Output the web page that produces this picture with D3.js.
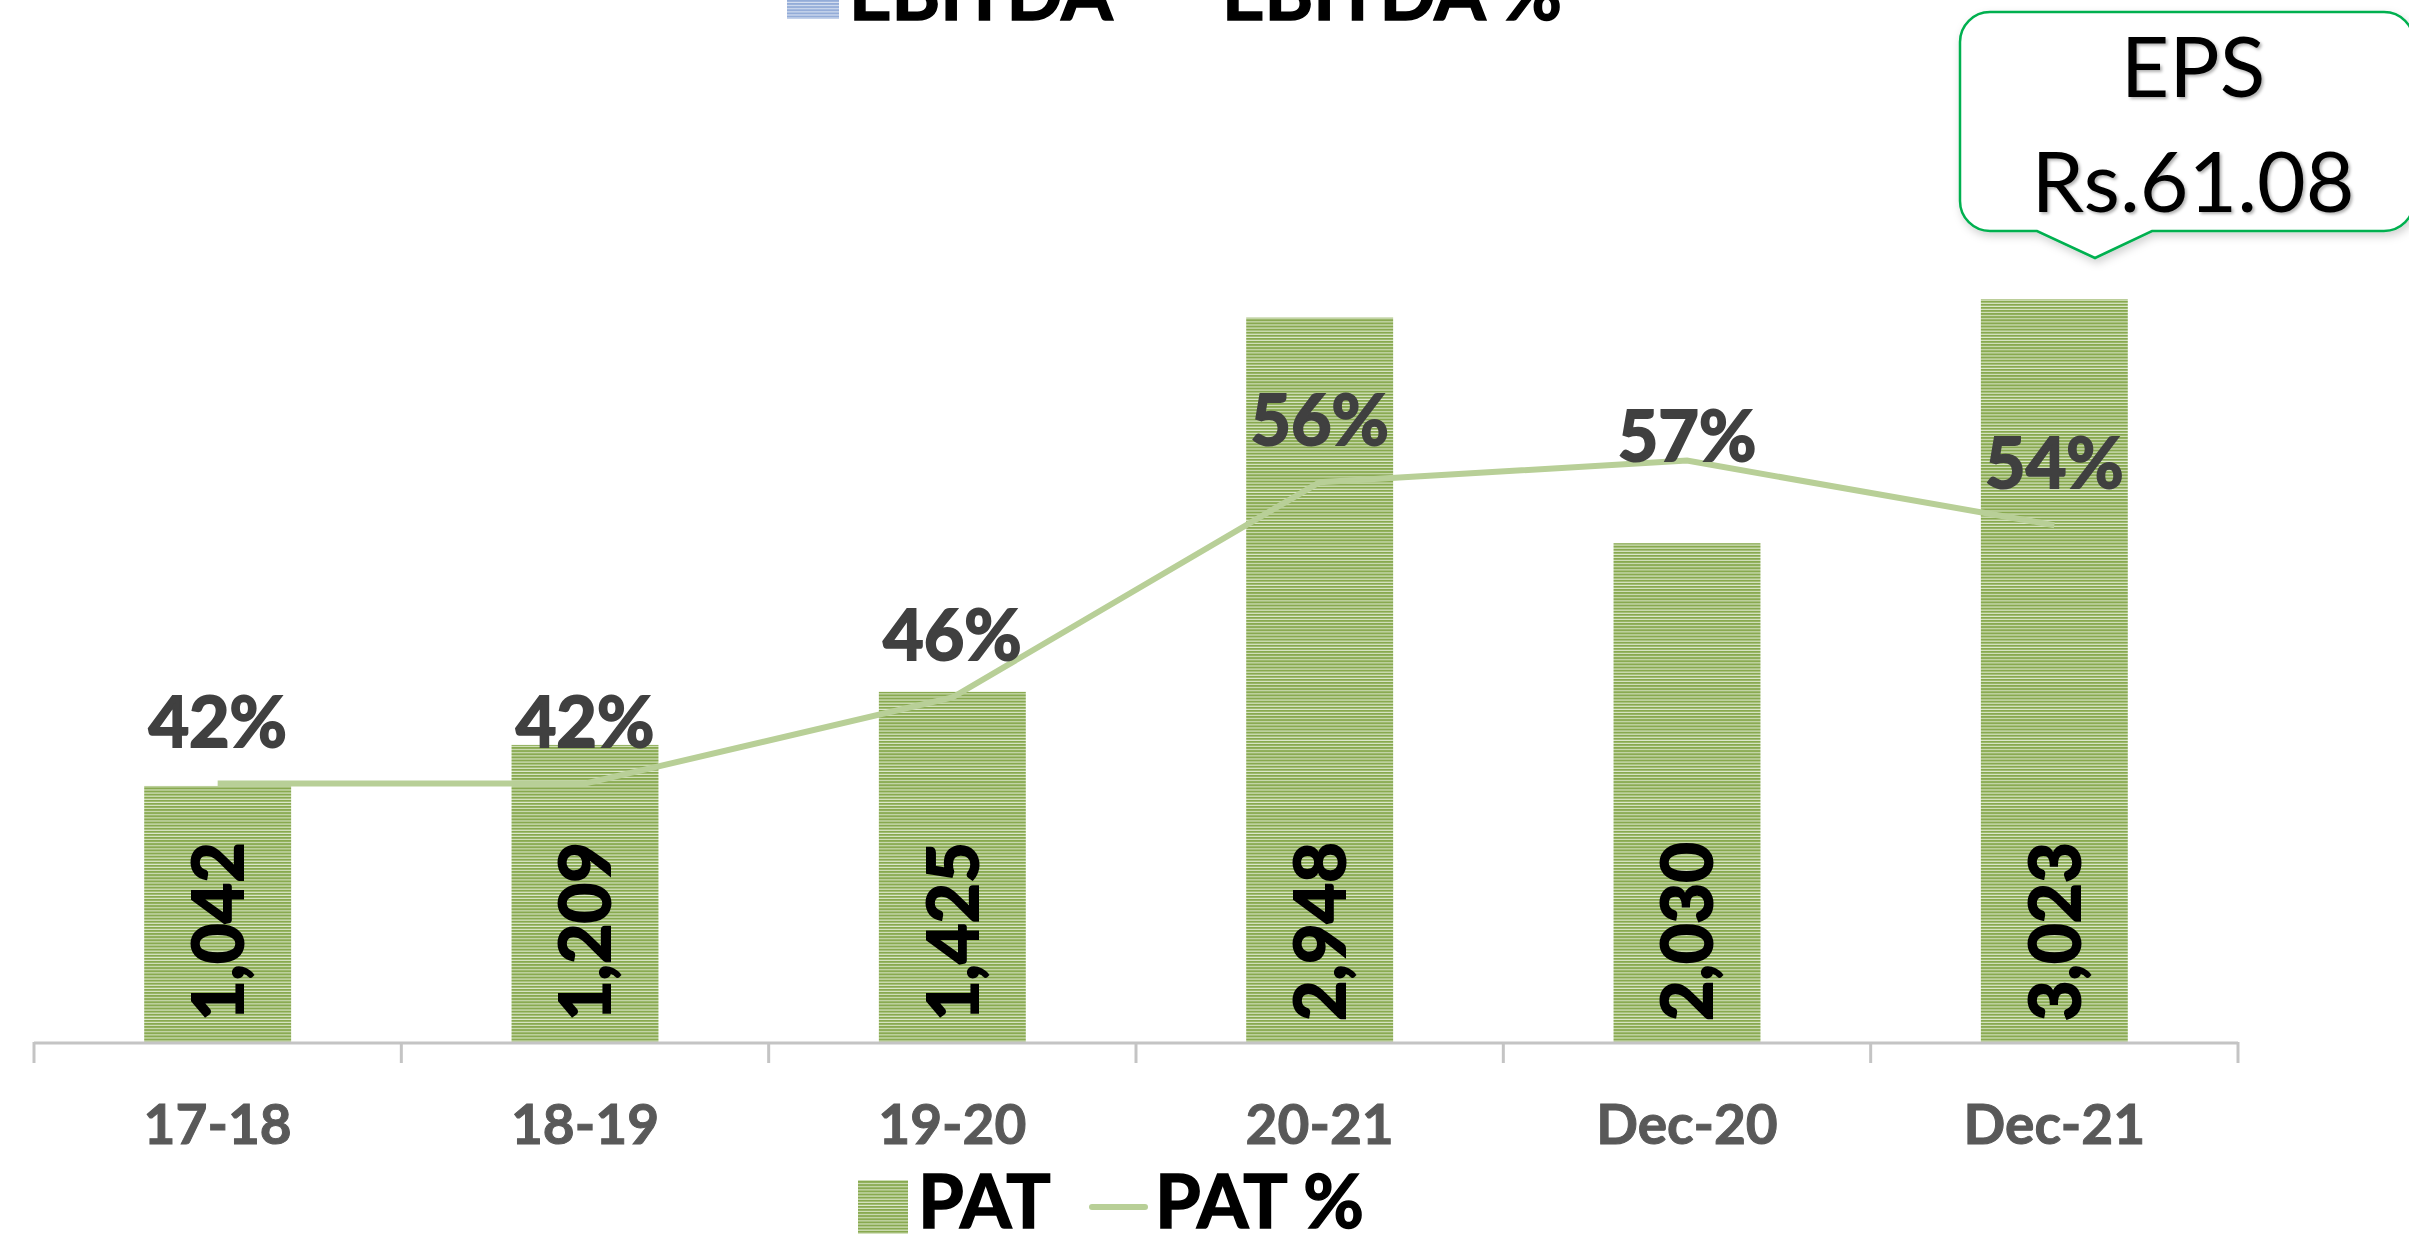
<!DOCTYPE html>
<html>
<head>
<meta charset="utf-8">
<script src="https://cdn.jsdelivr.net/npm/d3@7"></script>
<style>
  html, body { margin: 0; padding: 0; background: #fff; }
  svg { display: block; font-family: Lato, "Open Sans", sans-serif; }
</style>
</head>
<body>
<div id="chart"></div>
<script>
var categories = ["17-18", "18-19", "19-20", "20-21", "Dec-20", "Dec-21"];
var patValues = [1042, 1209, 1425, 2948, 2030, 3023];
var patPercent = [42, 42, 46, 56, 57, 54];
var epsLines = ["EPS", "Rs.61.08"];

var width = 2409, height = 1234;
var axisLeft = 34, axisRight = 2238, baseY = 1042;

var svg = d3.select("#chart").append("svg")
  .attr("width", width)
  .attr("height", height);

var defs = svg.append("defs");

// striped fill for the bars
var pat = defs.append("pattern")
  .attr("id", "greenStripes")
  .attr("patternUnits", "userSpaceOnUse")
  .attr("width", 20)
  .attr("height", 3.1);
pat.append("rect").attr("width", 20).attr("height", 3.1).attr("fill", "#dce8cb");
pat.append("rect").attr("width", 20).attr("height", 2).attr("fill", "#88a94f");

var blue = defs.append("pattern")
  .attr("id", "blueStripes")
  .attr("patternUnits", "userSpaceOnUse")
  .attr("width", 20)
  .attr("height", 3.1);
blue.append("rect").attr("width", 20).attr("height", 3.1).attr("fill", "#dfe7f4");
blue.append("rect").attr("width", 20).attr("height", 2).attr("fill", "#93acd8");

var shadow = defs.append("filter")
  .attr("id", "softShadow")
  .attr("x", "-10%").attr("y", "-10%")
  .attr("width", "130%").attr("height", "140%");
shadow.append("feDropShadow")
  .attr("dx", 2).attr("dy", 4)
  .attr("stdDeviation", 4)
  .attr("flood-color", "#000")
  .attr("flood-opacity", 0.18);

var textShadow = defs.append("filter").attr("id", "textShadow");
textShadow.append("feDropShadow")
  .attr("dx", 2).attr("dy", 2)
  .attr("stdDeviation", 1.5)
  .attr("flood-color", "#000")
  .attr("flood-opacity", 0.3);

// scales
var xOuter = d3.scaleBand()
  .domain(categories)
  .range([axisLeft, axisRight])
  .padding(0);

var xBar = d3.scaleBand()
  .domain(categories)
  .range([axisLeft, axisRight])
  .paddingInner(0.6)
  .paddingOuter(0.3);

var y = d3.scaleLinear().domain([0, 3500]).range([baseY, 182]);
var y2 = d3.scaleLinear().domain([30, 60]).range([baseY, 396]);

var data = categories.map(function(c, i){
  return {cat: c, value: patValues[i], pct: patPercent[i]};
});

// top legend (cut off by the top edge)
var topLegend = svg.append("g");
topLegend.append("rect")
  .attr("x", 787).attr("y", -40)
  .attr("width", 52).attr("height", 59)
  .attr("fill", "url(#blueStripes)");
topLegend.append("text")
  .attr("x", 849).attr("y", 20)
  .attr("font-size", 74).attr("font-weight", 700)
  .attr("fill", "#000")
  .attr("stroke", "#000").attr("stroke-width", 1.5)
  .text("EBITDA");
topLegend.append("text")
  .attr("x", 1222).attr("y", 20)
  .attr("font-size", 74).attr("font-weight", 700)
  .attr("fill", "#000")
  .attr("stroke", "#000").attr("stroke-width", 1.5)
  .text("EBITDA %");

// bars
svg.append("g").selectAll("rect.bar")
  .data(data)
  .enter().append("rect")
  .attr("class", "bar")
  .attr("x", d => xBar(d.cat))
  .attr("y", d => y(d.value))
  .attr("width", xBar.bandwidth())
  .attr("height", d => baseY - y(d.value))
  .attr("fill", "url(#greenStripes)");

// category axis
var axis = svg.append("g");
axis.append("line")
  .attr("x1", axisLeft).attr("x2", axisRight)
  .attr("y1", baseY + 1).attr("y2", baseY + 1)
  .attr("stroke", "#c4c4c4").attr("stroke-width", 3);
var tickPos = categories.map(c => xOuter(c)).concat([axisRight]);
axis.selectAll("line.tick")
  .data(tickPos)
  .enter().append("line")
  .attr("class", "tick")
  .attr("x1", d => d).attr("x2", d => d)
  .attr("y1", baseY).attr("y2", baseY + 21)
  .attr("stroke", "#c4c4c4").attr("stroke-width", 3);
axis.selectAll("text")
  .data(categories)
  .enter().append("text")
  .attr("x", d => xOuter(d) + xOuter.bandwidth() / 2)
  .attr("y", 1144)
  .attr("text-anchor", "middle")
  .attr("font-size", 55).attr("font-weight", 700)
  .attr("fill", "#595959")
  .attr("stroke", "#595959").attr("stroke-width", 1)
  .text(d => d);

// PAT % line
var line = d3.line()
  .x(d => xOuter(d.cat) + xOuter.bandwidth() / 2)
  .y(d => y2(d.pct));

svg.append("path")
  .datum(data)
  .attr("d", line)
  .attr("fill", "none")
  .attr("stroke", "#b8cf97")
  .attr("stroke-width", 6);

// value labels inside bars (rotated)
svg.append("g").selectAll("text")
  .data(data)
  .enter().append("text")
  .attr("transform", d => "translate(" + (xBar(d.cat) + xBar.bandwidth() / 2) + "," + (baseY - 21) + ") rotate(-90)")
  .attr("dy", "0.36em")
  .attr("text-anchor", "start")
  .attr("font-size", 70).attr("font-weight", 700)
  .attr("fill", "#000")
  .attr("stroke", "#000").attr("stroke-width", 2)
  .text(d => d3.format(",")(d.value));

// percent labels
svg.append("g").selectAll("text")
  .data(data)
  .enter().append("text")
  .attr("x", d => xOuter(d.cat) + xOuter.bandwidth() / 2)
  .attr("y", (d, i) => y2(d.pct) - (i === 4 ? 0 : 37))
  .attr("text-anchor", "middle")
  .attr("font-size", 70).attr("font-weight", 700)
  .attr("fill", "#404040")
  .attr("stroke", "#404040").attr("stroke-width", 2)
  .text(d => d.pct + "%");

// bottom legend
var legend = svg.append("g");
legend.append("rect")
  .attr("x", 858).attr("y", 1180)
  .attr("width", 50).attr("height", 60)
  .attr("fill", "url(#greenStripes)");
legend.append("text")
  .attr("x", 918).attr("y", 1228)
  .attr("font-size", 74).attr("font-weight", 700)
  .attr("fill", "#000")
  .attr("stroke", "#000").attr("stroke-width", 1.5)
  .text("PAT");
legend.append("line")
  .attr("x1", 1092).attr("x2", 1145)
  .attr("y1", 1207).attr("y2", 1207)
  .attr("stroke", "#b8cf97").attr("stroke-width", 6)
  .attr("stroke-linecap", "round");
legend.append("text")
  .attr("x", 1155).attr("y", 1228)
  .attr("font-size", 74).attr("font-weight", 700)
  .attr("fill", "#000")
  .attr("stroke", "#000").attr("stroke-width", 1.5)
  .text("PAT %");

// EPS callout
var bx0 = 1960, bx1 = 2414, by0 = 12, by1 = 231, r = 30;
var callout = d3.path();
callout.moveTo(bx0 + r, by0);
callout.lineTo(bx1 - r, by0);
callout.arcTo(bx1, by0, bx1, by0 + r, r);
callout.lineTo(bx1, by1 - r);
callout.arcTo(bx1, by1, bx1 - r, by1, r);
callout.lineTo(2152, by1);
callout.lineTo(2095, 258);
callout.lineTo(2037, by1);
callout.lineTo(bx0 + r, by1);
callout.arcTo(bx0, by1, bx0, by1 - r, r);
callout.lineTo(bx0, by0 + r);
callout.arcTo(bx0, by0, bx0 + r, by0, r);
callout.closePath();

svg.append("path")
  .attr("d", callout.toString())
  .attr("fill", "#fff")
  .attr("stroke", "#00b050")
  .attr("stroke-width", 2.5)
  .attr("filter", "url(#softShadow)");

svg.append("g").selectAll("text")
  .data(epsLines)
  .enter().append("text")
  .attr("x", 2193)
  .attr("y", (d, i) => 97 + i * 115)
  .attr("text-anchor", "middle")
  .attr("font-size", 84)
  .attr("fill", "#000")
  .attr("filter", "url(#textShadow)")
  .text(d => d);
</script>
</body>
</html>
